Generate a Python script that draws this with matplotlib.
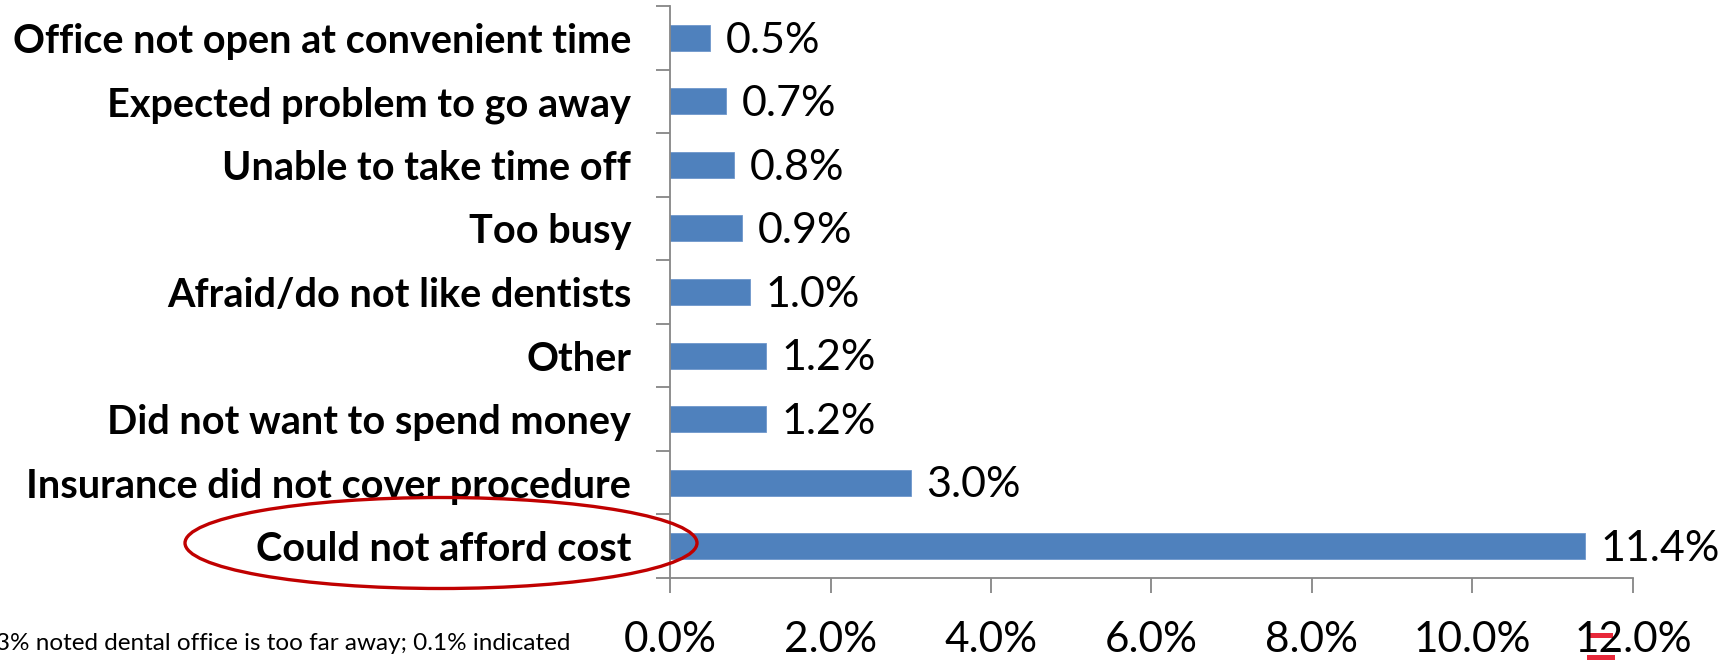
import matplotlib
matplotlib.use("Agg")
import matplotlib.pyplot as plt
from matplotlib.patches import Ellipse, Rectangle
from matplotlib.ticker import FixedLocator, FuncFormatter

categories = [
    "Office not open at convenient time",
    "Expected problem to go away",
    "Unable to take time off",
    "Too busy",
    "Afraid/do not like dentists",
    "Other",
    "Did not want to spend money",
    "Insurance did not cover procedure",
    "Could not afford cost",
]
values = [0.5, 0.7, 0.8, 0.9, 1.0, 1.2, 1.2, 3.0, 11.4]
value_labels = ["0.5%", "0.7%", "0.8%", "0.9%", "1.0%", "1.2%", "1.2%", "3.0%", "11.4%"]
xticks = [0, 2, 4, 6, 8, 10, 12]
footnote = "0.3% noted dental office is too far away; 0.1% indicated"

W, H = 1727, 660
fig = plt.figure(figsize=(W / 100, H / 100), dpi=100)
plt.rcParams['font.family'] = ['Lato', 'DejaVu Sans']

x0, x1 = 670, 1633
y_top, y_bot = 6, 578
ax = fig.add_axes([x0 / W, 1 - y_bot / H, (x1 - x0) / W, (y_bot - y_top) / H])
ax.patch.set_visible(False)

n = len(categories)
ypos = list(range(n))
ax.barh(ypos, values, height=0.41, color="#4F81BD", edgecolor="#6F97CC", linewidth=0.6)
ax.set_ylim(n - 0.5, -0.5)
ax.set_xlim(0, 12)

for y, v, lab in zip(ypos, values, value_labels):
    ax.annotate(lab, (v, y), xytext=(11, -2), textcoords="offset points",
                ha="left", va="center", fontsize=31, color="black")

gray = "#868686"
for s in ["top", "right"]:
    ax.spines[s].set_visible(False)
ax.spines["left"].set_color(gray)
ax.spines["bottom"].set_color(gray)
ax.spines["left"].set_linewidth(1.3)
ax.spines["bottom"].set_linewidth(1.3)

ax.set_yticks(ypos)
ax.set_yticklabels(categories, fontsize=28.5, fontweight="bold")
ax.yaxis.set_minor_locator(FixedLocator([i - 0.5 for i in range(n + 1)]))
ax.tick_params(axis="y", which="major", length=0, pad=28)
ax.tick_params(axis="y", which="minor", length=10, width=1.3, color=gray)

ax.set_xticks(xticks)
ax.xaxis.set_major_formatter(FuncFormatter(lambda v, p: f"{v:.1f}%"))
ax.tick_params(axis="x", which="major", length=11, width=1.3, color=gray,
               labelsize=30.5, pad=20)

# red highlight ellipse
cx, cy, ew, eh = 441, 543, 512, 91
fig.patches.append(Ellipse((cx / W, 1 - cy / H), ew / W, eh / H, transform=fig.transFigure,
                           fill=False, edgecolor="#C00000", linewidth=2.4, zorder=5))

# red marks behind "12.0%"
for (rx, ry, rw, rh) in [(1588, 633, 25, 5), (1587, 655, 28, 5)]:
    fig.patches.append(Rectangle((rx / W, 1 - (ry + rh) / H), rw / W, rh / H,
                                 transform=fig.transFigure, facecolor="#E8283A",
                                 edgecolor="none", zorder=-1))

fig.text(570 / W, 1 - 644 / H, footnote, ha="right", va="center", fontsize=17.5, color="black")

fig.savefig("out.png", dpi=100)
